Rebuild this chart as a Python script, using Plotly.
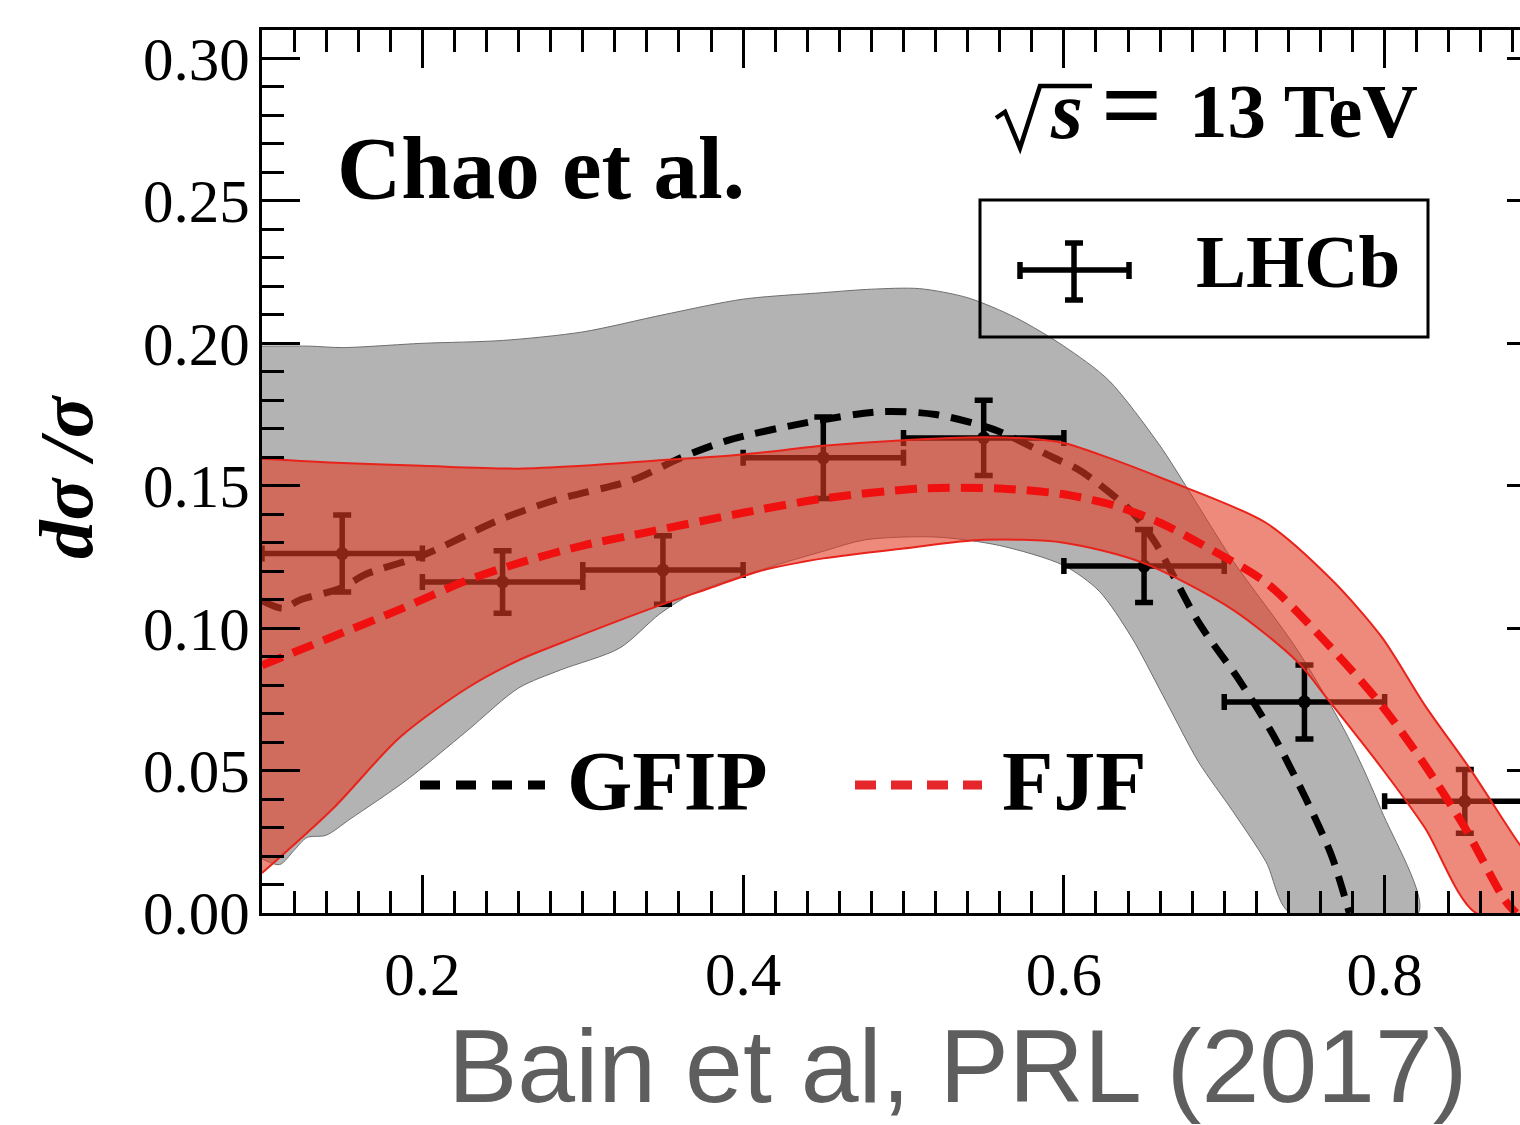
import plotly.graph_objects as go

# ---------------- data ----------------
# GFIP uncertainty band (grey)
gfip_up_x = [0.10, 0.13, 0.15, 0.20, 0.25, 0.30, 0.35, 0.40, 0.45, 0.48, 0.51, 0.54, 0.57, 0.60,
             0.628, 0.66, 0.676, 0.705, 0.746, 0.777, 0.798, 0.821]
gfip_up_y = [0.199, 0.199, 0.1985, 0.200, 0.201, 0.204, 0.210, 0.2155, 0.2178, 0.219, 0.2192, 0.216,
             0.209, 0.199, 0.187, 0.164, 0.150, 0.124, 0.092, 0.062, 0.036, 0.0]
gfip_lo_x = [0.10, 0.111, 0.12, 0.128, 0.14, 0.155, 0.19, 0.228, 0.26, 0.286, 0.323, 0.348, 0.368,
             0.414, 0.45, 0.476, 0.52, 0.56, 0.60, 0.622, 0.642, 0.664, 0.684, 0.705, 0.726, 0.741]
gfip_lo_y = [0.019, 0.017, 0.022, 0.0265, 0.0273, 0.033, 0.0466, 0.064, 0.079, 0.0853, 0.093, 0.105,
             0.112, 0.121, 0.127, 0.131, 0.132, 0.129, 0.122, 0.113, 0.097, 0.074, 0.053, 0.036, 0.018, 0.0]
# GFIP central curve
gfip_x = [0.10, 0.113, 0.124, 0.149, 0.165, 0.20, 0.248, 0.283, 0.331, 0.362, 0.391, 0.438, 0.486,
          0.52, 0.557, 0.593, 0.611, 0.642, 0.657, 0.684, 0.709, 0.73, 0.751, 0.767, 0.778]
gfip_y = [0.1097, 0.107, 0.110, 0.114, 0.119, 0.1255, 0.138, 0.145, 0.152, 0.160, 0.166, 0.172, 0.176,
          0.175, 0.1696, 0.160, 0.155, 0.141, 0.130, 0.102, 0.082, 0.063, 0.040, 0.020, 0.0]

# FJF uncertainty band (red)
fjf_up_x = [0.10, 0.15, 0.20, 0.26, 0.30, 0.35, 0.40, 0.45, 0.50, 0.55, 0.58, 0.60, 0.622, 0.664,
            0.726, 0.767, 0.798, 0.825, 0.854, 0.883, 0.90]
fjf_up_y = [0.1595, 0.158, 0.157, 0.156, 0.157, 0.159, 0.161, 0.164, 0.166, 0.167, 0.1665, 0.165,
            0.161, 0.152, 0.137, 0.117, 0.097, 0.073, 0.050, 0.025, 0.012]
fjf_lo_x = [0.10, 0.144, 0.186, 0.228, 0.261, 0.286, 0.348, 0.379, 0.41, 0.45, 0.50, 0.55, 0.60,
            0.649, 0.705, 0.746, 0.765, 0.798, 0.825, 0.857, 0.90]
fjf_lo_y = [0.014, 0.0365, 0.0617, 0.079, 0.089, 0.0947, 0.108, 0.114, 0.120, 0.1245, 0.128, 0.131,
            0.130, 0.123, 0.1066, 0.088, 0.0747, 0.051, 0.030, 0.0, 0.0]
# FJF central curve
fjf_x = [0.10, 0.144, 0.186, 0.228, 0.261, 0.30, 0.343, 0.40, 0.45, 0.51, 0.56, 0.60, 0.632, 0.66,
         0.684, 0.726, 0.761, 0.798, 0.825, 0.85, 0.875, 0.882]
fjf_y = [0.087, 0.097, 0.1066, 0.1168, 0.123, 0.129, 0.134, 0.1405, 0.1455, 0.149, 0.149, 0.147, 0.143,
         0.137, 0.130, 0.116, 0.0965, 0.073, 0.052, 0.030, 0.0045, 0.0]

# LHCb data
lhcb_x = [0.15, 0.25, 0.35, 0.45, 0.55, 0.65, 0.75, 0.85]
lhcb_y = [0.1262, 0.1162, 0.1204, 0.1598, 0.1668, 0.1218, 0.0741, 0.0392]
lhcb_yerr = [0.0135, 0.011, 0.012, 0.0143, 0.0132, 0.0128, 0.013, 0.0112]
lhcb_xerr = [0.05, 0.05, 0.05, 0.05, 0.05, 0.05, 0.05, 0.05]

x_tickvals = [0.2, 0.4, 0.6, 0.8]
x_ticktext = ["0.2", "0.4", "0.6", "0.8"]
y_tickvals = [0.0, 0.05, 0.10, 0.15, 0.20, 0.25, 0.30]
y_ticktext = ["0.00", "0.05", "0.10", "0.15", "0.20", "0.25", "0.30"]

# ---------------- geometry helpers (pixel -> paper) ----------------
L, R, T, B = 262, 1545, 30, 913
W_PLOT, H_PLOT = R - L, B - T


def px(xpx):
    return (xpx - L) / W_PLOT


def py(ypx):
    return (B - ypx) / H_PLOT


SERIF = "Liberation Serif"
fig = go.Figure()

# grey GFIP band
fig.add_trace(go.Scatter(
    x=gfip_up_x + gfip_lo_x[::-1], y=gfip_up_y + gfip_lo_y[::-1],
    fill="toself", fillcolor="#b3b3b3", mode="lines",
    line=dict(color="#6e6e6e", width=1, shape="spline", smoothing=0.8),
    showlegend=False, hoverinfo="skip"))

# GFIP central dashed
fig.add_trace(go.Scatter(
    x=gfip_x, y=gfip_y, mode="lines",
    line=dict(color="black", width=7, dash="21px,12px", shape="spline", smoothing=0.8),
    showlegend=False))

# LHCb points
fig.add_trace(go.Scatter(
    x=lhcb_x, y=lhcb_y, mode="markers",
    marker=dict(color="black", size=13),
    error_x=dict(type="data", array=lhcb_xerr, color="black", thickness=5.5, width=8),
    error_y=dict(type="data", array=lhcb_yerr, color="black", thickness=5.5, width=9),
    showlegend=False))

# red FJF band (semi-transparent, on top)
fig.add_trace(go.Scatter(
    x=fjf_up_x + fjf_lo_x[::-1], y=fjf_up_y + fjf_lo_y[::-1],
    fill="toself", fillcolor="rgba(225,60,35,0.6)", mode="lines",
    line=dict(color="#e8231b", width=2, shape="spline", smoothing=0.8),
    showlegend=False, hoverinfo="skip"))

# FJF central dashed
fig.add_trace(go.Scatter(
    x=fjf_x, y=fjf_y, mode="lines",
    line=dict(color="#f01010", width=8, dash="22px,11px", shape="spline", smoothing=0.8),
    showlegend=False))

axis_common = dict(
    showline=True, linecolor="black", linewidth=3, mirror="ticks",
    ticks="inside", tickcolor="black", tickwidth=2.5, ticklen=38,
    showgrid=False, zeroline=False,
    tickfont=dict(family=SERIF, size=61, color="black"),
)

fig.update_xaxes(range=[0.1, 0.9], tickvals=x_tickvals, ticktext=x_ticktext,
                 minor=dict(dtick=0.02, tick0=0.0, ticks="inside", ticklen=22, tickwidth=2.5,
                            tickcolor="black", showgrid=False),
                 ticklabelstandoff=6, **axis_common)
fig.update_yaxes(range=[0.0, 0.31], tickvals=y_tickvals, ticktext=y_ticktext,
                 minor=dict(dtick=0.01, tick0=0.0, ticks="inside", ticklen=22, tickwidth=2.5,
                            tickcolor="black", showgrid=False),
                 ticklabelstandoff=-3, **axis_common)

shapes = []
# LHCb legend box
shapes.append(dict(type="rect", xref="paper", yref="paper", x0=px(980), x1=px(1428), y0=py(337), y1=py(200),
                   line=dict(color="black", width=3), fillcolor="rgba(0,0,0,0)"))
# legend cross symbol
cx, cy = 1074, 270
seg = [((1020, cy), (1129, cy)), ((cx, 243), (cx, 300)),
       ((1020, 262), (1020, 279)), ((1129, 262), (1129, 279)),
       ((1065, 243), (1083, 243)), ((1065, 300), (1083, 300))]
for (a, b) in seg:
    shapes.append(dict(type="line", xref="paper", yref="paper", x0=px(a[0]), y0=py(a[1]),
                       x1=px(b[0]), y1=py(b[1]), line=dict(color="black", width=5.5)))
# GFIP / FJF legend samples
shapes.append(dict(type="line", xref="paper", yref="paper", x0=px(420), x1=px(545), y0=py(785), y1=py(785),
                   line=dict(color="black", width=9, dash="20px,16px")))
shapes.append(dict(type="line", xref="paper", yref="paper", x0=px(855), x1=px(982), y0=py(785), y1=py(785),
                   line=dict(color="#e5262b", width=9, dash="21px,15px")))
# radical sign drawn as a path (check + vinculum over the s)
shapes.append(dict(type="path", xref="paper", yref="paper",
                   path=(f"M {px(996)},{py(118)} L {px(1005)},{py(112)} L {px(1020)},{py(148)} "
                         f"L {px(1040)},{py(86)} L {px(1092)},{py(86)}"),
                   line=dict(color="black", width=4.5)))

annotations = [
    dict(text="<b>Chao et al.</b>", x=px(335), y=py(168), xanchor="left", yanchor="middle",
         font=dict(family=SERIF, size=89, color="black")),
    dict(text="<b><i>s</i></b>", x=px(1066), y=py(111), xanchor="center", yanchor="middle",
         font=dict(family=SERIF, size=82, color="black")),
    dict(text="<b>=</b>", x=px(1132), y=py(104), xanchor="center", yanchor="middle",
         font=dict(family=SERIF, size=108, color="black")),
    dict(text="<b>13 TeV</b>", x=px(1420), y=py(111), xanchor="right", yanchor="middle",
         font=dict(family=SERIF, size=77, color="black")),
    dict(text="<b>LHCb</b>", x=px(1194), y=py(261), xanchor="left", yanchor="middle",
         font=dict(family=SERIF, size=75, color="black")),
    dict(text="<b>GFIP</b>", x=px(565), y=py(781), xanchor="left", yanchor="middle",
         font=dict(family=SERIF, size=84, color="black")),
    dict(text="<b>FJF</b>", x=px(1000), y=py(781), xanchor="left", yanchor="middle",
         font=dict(family=SERIF, size=84, color="black")),
    dict(text="<b><i>dσ /σ</i></b>", x=px(66), y=py(477), xanchor="center", yanchor="middle",
         textangle=-90, font=dict(family=SERIF, size=77, color="black")),
    dict(text="Bain et al, PRL (2017)", x=px(957), y=py(1066), xanchor="center", yanchor="middle",
         font=dict(family="Liberation Sans", size=104, color="#5e5e5e")),
]
for a in annotations:
    a.update(xref="paper", yref="paper", showarrow=False)

fig.update_layout(
    width=1560, height=1125,
    margin=dict(l=L, r=1560 - R, t=T, b=1125 - B, pad=0),
    paper_bgcolor="white", plot_bgcolor="white",
    shapes=shapes, annotations=annotations, showlegend=False,
)

fig.write_html("out.html", post_script=(
    "document.documentElement.style.overflow='hidden';"
    "document.body.style.overflow='hidden';document.body.style.margin='0';"))
